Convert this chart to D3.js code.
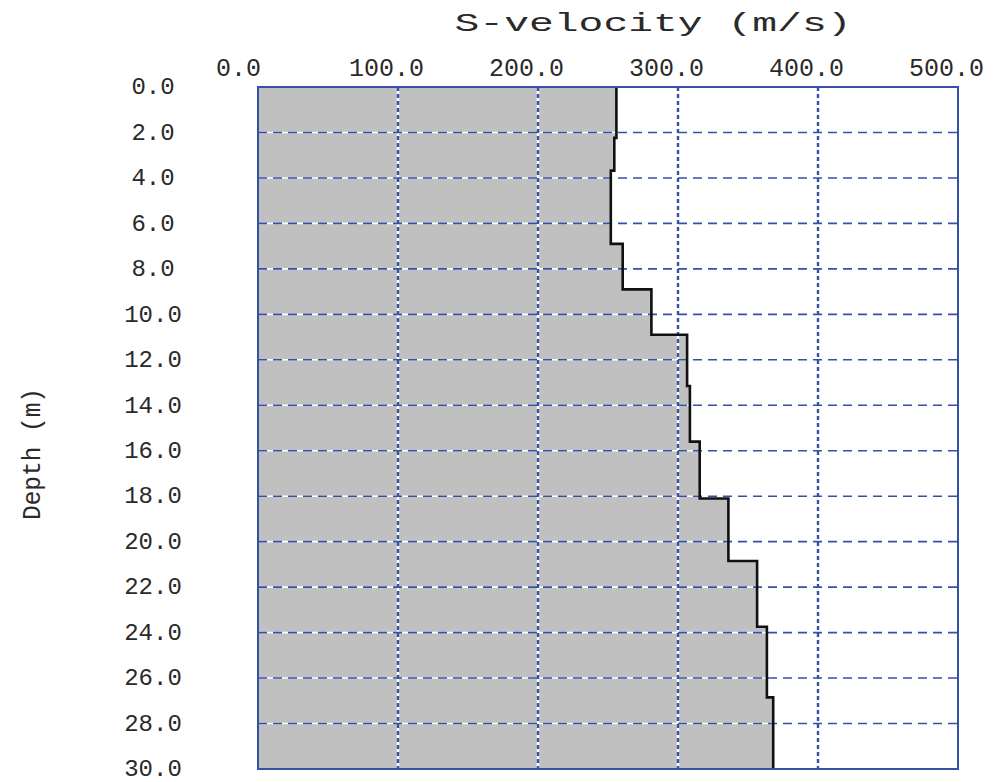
<!DOCTYPE html>
<html>
<head>
<meta charset="utf-8">
<script src="https://cdn.jsdelivr.net/npm/d3@7"></script>
<style>
  html, body { margin: 0; padding: 0; background: #ffffff; }
  svg { display: block; }
  text { font-family: "Liberation Mono", "DejaVu Sans Mono", monospace; fill: #2a2a2a; }
</style>
</head>
<body>
<svg id="chart" width="993" height="782"></svg>
<script>
// ---- data ----
const layerTop    = [0, 2.24, 3.68, 6.9, 8.9, 10.9, 13.15, 15.6, 18.1, 20.85, 23.74, 26.85];
const layerBottom = [2.24, 3.68, 6.9, 8.9, 10.9, 13.15, 15.6, 18.1, 20.85, 23.74, 26.85, 30];
const sVelocity   = [256, 254.5, 252, 260.5, 281, 306.5, 308.5, 315.5, 336, 356.5, 363.5, 368];
const xTickValues = [0, 100, 200, 300, 400, 500];
const yTickValues = [0, 2, 4, 6, 8, 10, 12, 14, 16, 18, 20, 22, 24, 26, 28, 30];
const xTitle = "S-velocity (m/s)";
const yTitle = "Depth (m)";

// ---- layout ----
const L = 258, R = 958, T = 87, B = 769;
const blue = "#3352a6";
const svg = d3.select("#chart");

const x = d3.scaleLinear().domain([0, 500]).range([L, R]);
const y = d3.scaleLinear().domain([0, 30]).range([T, B]);

// step profile points
const pts = [];
sVelocity.forEach((v, i) => {
  pts.push({ v: v, d: layerTop[i] });
  pts.push({ v: v, d: layerBottom[i] });
});

// grey filled area
svg.append("path")
  .datum(pts)
  .attr("fill", "#c0c0c0")
  .attr("d", d3.area().y(p => y(p.d)).x0(x(0)).x1(p => x(p.v)));

// grid lines: white underlay + blue dashes
const gridX = xTickValues.filter(v => v > 0 && v < 500);
const gridY = yTickValues.filter(v => v > 0 && v < 30);

const g = svg.append("g");
g.selectAll("line.hw").data(gridY).join("line")
  .attr("x1", L).attr("x2", R).attr("y1", d => y(d)).attr("y2", d => y(d))
  .attr("stroke", "#ffffff").attr("stroke-width", 1.6);
g.selectAll("line.vw").data(gridX).join("line")
  .attr("y1", T).attr("y2", B).attr("x1", d => x(d)).attr("x2", d => x(d))
  .attr("stroke", "#ffffff").attr("stroke-width", 2.4);
g.selectAll("line.hb").data(gridY).join("line")
  .attr("x1", L).attr("x2", R).attr("y1", d => y(d)).attr("y2", d => y(d))
  .attr("stroke", blue).attr("stroke-width", 1.6)
  .attr("stroke-dasharray", "9,6");
g.selectAll("line.vb").data(gridX).join("line")
  .attr("y1", T).attr("y2", B).attr("x1", d => x(d)).attr("x2", d => x(d))
  .attr("stroke", blue).attr("stroke-width", 2.4)
  .attr("stroke-dasharray", "4,3");

// step line
svg.append("path")
  .datum(pts)
  .attr("fill", "none")
  .attr("stroke", "#111")
  .attr("stroke-width", 2.6)
  .attr("d", d3.line().x(p => x(p.v)).y(p => y(p.d)));

// border
svg.append("rect")
  .attr("x", L).attr("y", T).attr("width", R - L).attr("height", B - T)
  .attr("fill", "none").attr("stroke", blue).attr("stroke-width", 2);

// top axis
const fmt = d3.format(".1f");
const xAxisG = svg.append("g")
  .attr("transform", "translate(-12,76)")
  .call(d3.axisTop(x).tickValues(xTickValues).tickFormat(fmt).tickSize(0).tickPadding(0));
xAxisG.select(".domain").remove();
xAxisG.selectAll("text")
  .attr("font-size", 25)
  .attr("font-family", "Liberation Mono, DejaVu Sans Mono, monospace")
  .attr("fill", "#2a2a2a")
  .attr("x", d => d === 0 ? -8 : 0);

// left axis
const yAxisG = svg.append("g")
  .attr("transform", "translate(153,0)")
  .call(d3.axisLeft(y).tickValues(yTickValues).tickFormat(fmt).tickSize(0).tickPadding(0));
yAxisG.select(".domain").remove();
yAxisG.selectAll("text")
  .attr("font-size", 24)
  .attr("font-family", "Liberation Mono, DejaVu Sans Mono, monospace")
  .attr("fill", "#2a2a2a")
  .attr("text-anchor", "middle")
  .attr("x", 0)
  .attr("dy", "0.28em");

// titles
svg.append("text")
  .attr("x", 653).attr("y", 31)
  .attr("text-anchor", "middle")
  .attr("font-size", 26)
  .attr("textLength", 397)
  .attr("lengthAdjust", "spacingAndGlyphs")
  .text(xTitle);

svg.append("text")
  .attr("transform", "translate(40,454) rotate(-90)")
  .attr("text-anchor", "middle")
  .attr("font-size", 25)
  .attr("textLength", 132)
  .attr("lengthAdjust", "spacingAndGlyphs")
  .text(yTitle);
</script>
</body>
</html>
